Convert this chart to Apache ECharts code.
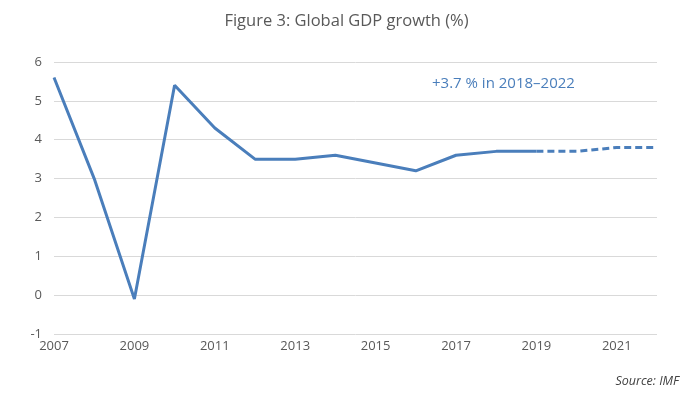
<!DOCTYPE html>
<html><head><meta charset="utf-8">
<script src="https://cdn.jsdelivr.net/npm/echarts@6/dist/echarts.min.js"></script>
<style>html,body{margin:0;padding:0;background:#fff}#c{width:693px;height:405px}</style>
</head><body><div id="c"></div>
<script>
const years = ['2007','2008','2009','2010','2011','2012','2013','2014','2015','2016','2017','2018','2019','2020','2021','2022'];
const actual = [5.6, 3.0, -0.1, 5.4, 4.3, 3.5, 3.5, 3.6, 3.4, 3.2, 3.6, 3.7, 3.7, null, null, null];
const forecast = [null, null, null, null, null, null, null, null, null, null, null, null, 3.7, 3.7, 3.8, 3.8];
const titleText = 'Figure 3: Global GDP growth (%)';
const noteText = '+3.7 % in 2018–2022';
const sourceText = 'Source: IMF';
const font = '"Open Sans", "Noto Sans", sans-serif';
const blue = '#4a7ebb';
const chart = echarts.init(document.getElementById('c'));
chart.setOption({
  animation: false,
  textStyle: {fontFamily: font},
  title: {text: titleText, left: 'center', top: 8, textStyle: {fontFamily: font, fontSize: 16.5, fontWeight: 'normal', color: '#595959'}},
  graphic: [
    {type: 'text', left: 432, top: 76, style: {text: noteText, font: '15px ' + font, fill: blue}},
    {type: 'text', right: 14, top: 375, style: {text: sourceText, font: 'italic 12.5px ' + font, fill: '#404040'}}
  ],
  grid: {left: 54, right: 36, top: 62, bottom: 71},
  xAxis: {
    type: 'category', data: years, boundaryGap: false,
    axisLine: {show: false}, axisTick: {show: false},
    axisLabel: {interval: 1, color: '#595959', fontSize: 13, margin: 6, fontFamily: font}
  },
  yAxis: {
    type: 'value', min: -1, max: 6, interval: 1,
    axisLine: {show: false}, axisTick: {show: false},
    axisLabel: {color: '#595959', fontSize: 13, margin: 12, fontFamily: font},
    splitLine: {lineStyle: {color: '#d9d9d9', width: 1}}
  },
  series: [
    {type: 'line', data: actual, showSymbol: false, lineStyle: {color: blue, width: 3}, itemStyle: {color: blue}},
    {type: 'line', data: forecast, showSymbol: false, lineStyle: {color: blue, width: 3, type: [7, 4]}, itemStyle: {color: blue}}
  ]
});
</script></body></html>
